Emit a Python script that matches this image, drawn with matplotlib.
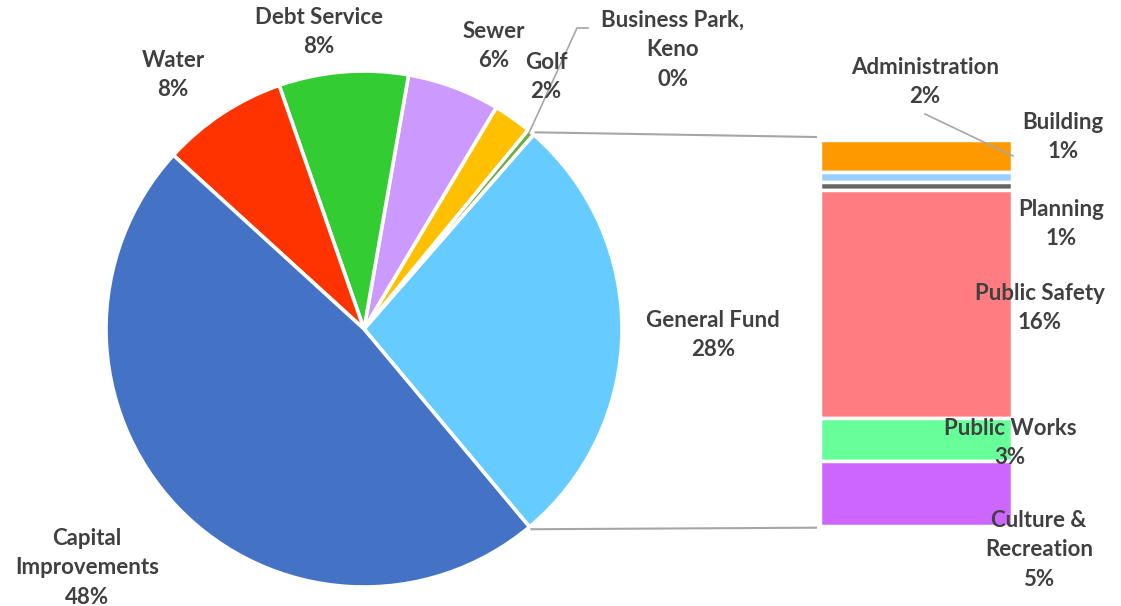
import numpy as np
import matplotlib.pyplot as plt

# pie part (percent of total budget)
pie_labels = ['General Fund', 'Business Park,\nKeno', 'Golf', 'Sewer',
              'Debt Service', 'Water', 'Capital\nImprovements']
pie_values = [27.5, 0.45, 2.4, 5.8, 8.1, 7.9, 47.85]
pie_colors = ['#66CCFF', '#70AD47', '#FFC000', '#CC99FF',
              '#33CC33', '#FF3300', '#4472C4']

# bar part: breakdown of General Fund (top to bottom)
bar_labels = ['Administration', 'Building', 'Planning', 'Public Safety',
              'Public Works', 'Culture &\nRecreation']
bar_values = [2.3, 0.7, 0.6, 16.2, 3.1, 4.6]
bar_colors = ['#FF9900', '#99CCFF', '#666666', '#FF7C80',
              '#66FF99', '#CC66FF']

W, H = 1121, 606
fig = plt.figure(figsize=(W / 100, H / 100), dpi=100)
ax = fig.add_axes([0, 0, 1, 1])

# pixel-like coordinates, y goes down
cx, cy, r = 364, 329, 258
wedges, _ = ax.pie(pie_values, colors=pie_colors, center=(cx, cy), radius=r,
                   startangle=50.1, counterclock=False,
                   wedgeprops=dict(edgecolor='white', linewidth=2.6))

ax.set_xlim(0, W)
ax.set_ylim(H, 0)
ax.set_aspect('equal')
ax.axis('off')

# stacked bar
bar_x, bar_w = 916, 192
bar_top, bar_px = 140, 385.7
scale = bar_px / sum(bar_values)
tops = bar_top + np.concatenate([[0], np.cumsum(bar_values)[:-1]]) * scale
ax.bar([bar_x] * len(bar_values), np.array(bar_values) * scale, bottom=tops,
       width=bar_w, color=bar_colors, edgecolor='white', linewidth=2.5)

# connector lines between pie and bar
gf = wedges[0]
line_col = '#A6A6A6'
for th, by in [(gf.theta1, bar_top - 3), (gf.theta2, bar_top + bar_px + 2)]:
    px = cx + (r + 3) * np.cos(np.radians(th))
    py = cy + (r + 3) * np.sin(np.radians(th))
    ax.plot([px, bar_x - bar_w / 2 - 4], [py, by], color=line_col, lw=1.5)

# leader lines
ax.plot([529, 577, 588], [133, 28, 28], color=line_col, lw=1.2)
ax.plot([925, 1013], [114, 156], color=line_col, lw=1.2)

txt = dict(ha='center', va='center', fontsize=16, fontweight='bold',
           color='#404040', family='Lato', linespacing=1.5)

pie_pos = [(713, 335), (673, 50), (546, 77), (494, 46),
           (319, 32), (173, 75), (87, 568)]
for lab, v, (x, y) in zip(pie_labels, pie_values, pie_pos):
    ax.text(x, y, f'{lab}\n{round(v):.0f}%', **txt)

bar_pos = [(925, 82), (1063, 137), (1061, 224), (1040, 308),
           (1010, 443), (1039, 550)]
for lab, v, (x, y) in zip(bar_labels, bar_values, bar_pos):
    ax.text(x, y, f'{lab}\n{round(v):.0f}%', **txt)

fig.savefig('out.png', dpi=100)
